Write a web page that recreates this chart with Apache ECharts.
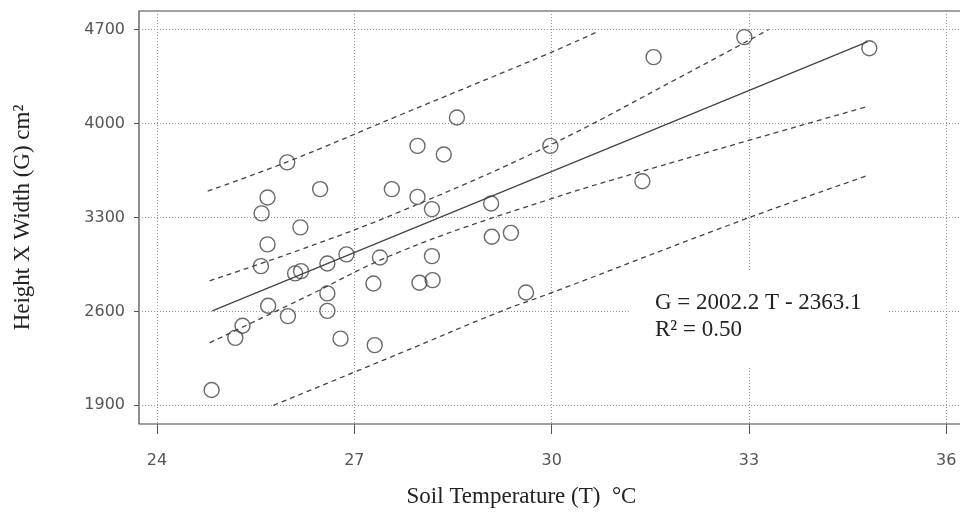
<!DOCTYPE html>
<html>
<head>
<meta charset="utf-8">
<script src="https://cdn.jsdelivr.net/npm/echarts@6/dist/echarts.min.js"></script>
<style>
  html, body { margin: 0; padding: 0; background: #fff; }
  #chart { width: 960px; height: 530px; }
</style>
</head>
<body>
<div id="chart"></div>
<script>
// observations: soil temperature (T) and height x width (G)
const soilTemp = [24.83, 25.19, 25.30, 25.59, 25.58, 25.68, 25.68, 25.69, 25.98, 25.99,
                  26.10, 26.19, 26.18, 26.48, 26.59, 26.59, 26.59, 26.79, 26.88, 27.29,
                  27.31, 27.39, 27.57, 27.96, 27.96, 27.99, 28.18, 28.18, 28.19, 28.36,
                  28.56, 29.08, 29.09, 29.38, 29.61, 29.98, 31.38, 31.55, 32.93, 34.83];
const plantSize = [2014, 2403, 2493, 3330, 2937, 3449, 3099, 2642, 3710, 2565,
                   2883, 2900, 3226, 3511, 2957, 2734, 2604, 2397, 3025, 2808,
                   2349, 3002, 3511, 3833, 3453, 2813, 3362, 3012, 2833, 3769,
                   4045, 3404, 3156, 3185, 2741, 3833, 3570, 4494, 4643, 4561];

// regression line ends
const fitT = [24.84, 34.80];
const fitG = [2604, 4608];

// inner dashed band
const innerUpT = [24.80, 26.17, 27.69, 29.95, 31.96, 33.30];
const innerUpG = [2828, 3058, 3342, 3833, 4347, 4700];
const innerLoT = [24.80, 26.17, 27.69, 29.93, 31.96, 34.82];
const innerLoG = [2366, 2686, 3044, 3429, 3727, 4129];

// outer dashed band
const outerUpT = [24.77, 25.98, 27.69, 29.95, 30.69];
const outerUpG = [3496, 3714, 4062, 4521, 4682];
const outerLoT = [25.77, 27.69, 29.21, 30.00, 32.97, 34.82];
const outerLoG = [1900, 2287, 2597, 2739, 3293, 3615];

const xTicks = [24, 27, 30, 33, 36];
const yTicks = [1900, 2600, 3300, 4000, 4700];

const zip = (a, b) => a.map((v, i) => [v, b[i]]);

const chart = echarts.init(document.getElementById('chart'));

const dashed = (name, t, g) => ({
    name: name,
    type: 'line',
    data: zip(t, g),
    smooth: 0.4,
    showSymbol: false,
    lineStyle: { color: '#444', width: 1.3, type: [5, 4] },
    z: 3
});

chart.setOption({
    animation: false,
    grid: {
        left: 139, top: 11, width: 827, bottom: 106,
        outerBoundsMode: 'none',
        containLabel: false,
        show: true, borderColor: '#444', borderWidth: 1.2
    },
    xAxis: {
        type: 'value',
        min: 23.726,
        max: 36.3,
        name: 'Soil Temperature (T)  \u00b0C',
        nameLocation: 'middle',
        nameGap: 61,
        nameTextStyle: {
            fontFamily: 'Liberation Serif', fontSize: 23, color: '#222',
            padding: [0, 62, 0, 0]
        },
        axisLine: { show: false },
        axisTick: {
            show: true, inside: false, length: 10, customValues: xTicks,
            lineStyle: { color: '#555', width: 1 }
        },
        axisLabel: {
            customValues: xTicks, margin: 29,
            formatter: v => String(v),
            fontFamily: 'DejaVu Sans', fontSize: 16, color: '#555'
        },
        splitLine: {
            show: true,
            lineStyle: { color: '#999', type: [1, 2], width: 1 }
        }
    },
    yAxis: {
        type: 'value',
        min: 1761,
        max: 4838,
        name: 'Height X Width (G) cm\u00b2',
        nameLocation: 'middle',
        nameGap: 105,
        nameRotate: 90,
        nameTextStyle: { fontFamily: 'Liberation Serif', fontSize: 23, color: '#222' },
        axisLine: { show: false },
        axisTick: {
            show: true, length: 5, customValues: yTicks,
            lineStyle: { color: '#555', width: 1 }
        },
        axisLabel: {
            customValues: yTicks, margin: 14,
            formatter: v => String(v),
            fontFamily: 'DejaVu Sans', fontSize: 16, color: '#555'
        },
        splitLine: {
            show: true,
            lineStyle: { color: '#999', type: [1, 2], width: 1 }
        }
    },
    series: [
        {
            name: 'observed',
            type: 'scatter',
            data: zip(soilTemp, plantSize),
            symbol: 'circle',
            symbolSize: 15,
            itemStyle: { color: 'rgba(0,0,0,0)', borderColor: '#444', borderWidth: 1.4 },
            z: 4
        },
        {
            name: 'fit',
            type: 'line',
            data: zip(fitT, fitG),
            showSymbol: false,
            lineStyle: { color: '#444', width: 1.3 },
            z: 3
        },
        dashed('inner upper', innerUpT, innerUpG),
        dashed('inner lower', innerLoT, innerLoG),
        dashed('outer upper', outerUpT, outerUpG),
        dashed('outer lower', outerLoT, outerLoG)
    ],
    graphic: [
        {
            type: 'rect',
            shape: { x: 630, y: 272, width: 257, height: 95 },
            style: { fill: '#fff' },
            z: 1
        },
        {
            type: 'text',
            left: 655, top: 291,
            style: {
                text: 'G = 2002.2 T - 2363.1',
                font: '23px "Liberation Serif"',
                fill: '#222'
            },
            z: 5
        },
        {
            type: 'text',
            left: 655, top: 318,
            style: {
                text: 'R\u00b2 = 0.50',
                font: '23px "Liberation Serif"',
                fill: '#222'
            },
            z: 5
        }
    ]
});
</script>
</body>
</html>
